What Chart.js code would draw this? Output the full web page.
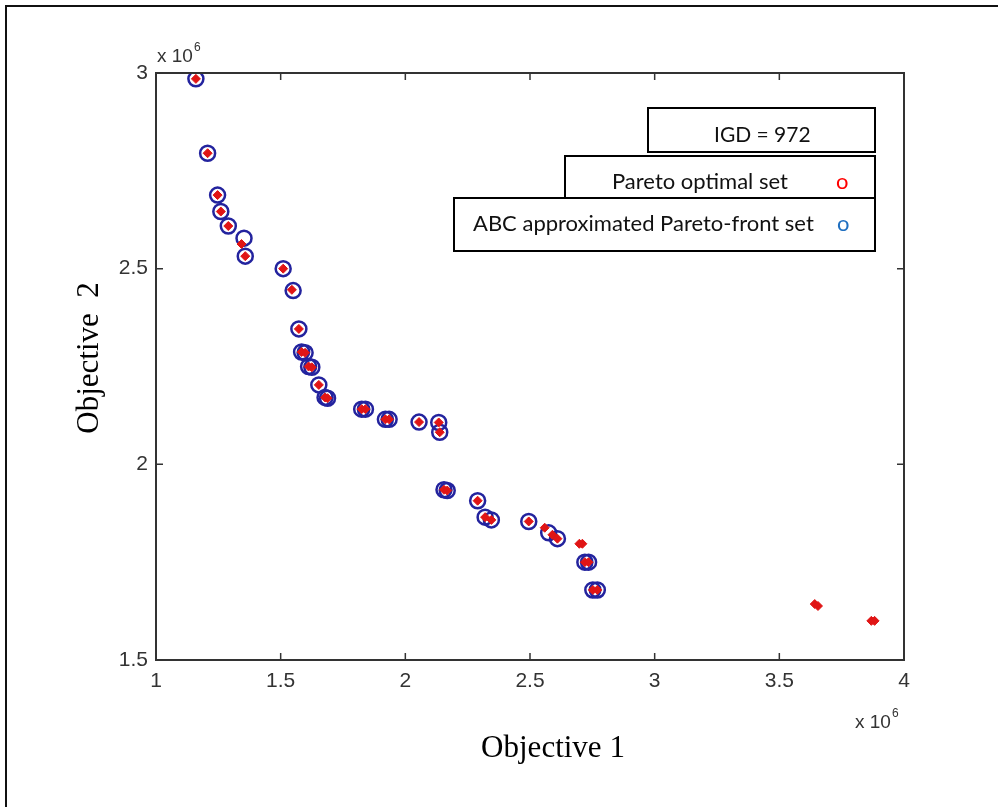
<!DOCTYPE html>
<html>
<head>
<meta charset="utf-8">
<script src="https://cdn.jsdelivr.net/npm/chart.js@4/dist/chart.umd.min.js"></script>
<style>
  html, body { margin: 0; padding: 0; background: #fff; }
  #wrap { position: relative; width: 998px; height: 807px; overflow: hidden; }
  #outer { position: absolute; left: 5px; top: 5px; width: 1010px; height: 820px; border: 2px solid #111; }
  canvas { position: absolute; left: 0; top: 0; }
  .box { position: absolute; box-sizing: border-box; border: 2px solid #000; background: #fff; }
  .lbl { position: absolute; font-family: Lato, "Noto Sans", sans-serif; font-size: 22px; line-height: 26px; color: #111; white-space: nowrap; }
</style>
</head>
<body>
<div id="wrap">
  <div id="outer"></div>
  <canvas id="chart" width="998" height="807"></canvas>
  <div class="box" style="left:647px; top:107px; width:229px; height:46px;"></div>
  <div class="box" style="left:564px; top:155px; width:312px; height:44px;"></div>
  <div class="box" style="left:453px; top:197px; width:423px; height:55px;"></div>
  <span class="lbl" style="left:714px; top:121px; font-size:21px;">IGD = 972</span>
  <span class="lbl" style="left:612px; top:168px;">Pareto optimal set</span>
  <span class="lbl" style="left:836px; top:168px; color:#ff0000;">o</span>
  <span class="lbl" style="left:473px; top:210px;">ABC approximated Pareto-front set</span>
  <span class="lbl" style="left:837px; top:210px; color:#1f6fc0;">o</span>
</div>
<script>
// ABC approximated Pareto-front set (blue circles)
const abcX = [1.16, 1.207, 1.247, 1.26, 1.29, 1.353, 1.358, 1.51, 1.55, 1.573, 1.584, 1.598, 1.612, 1.625, 1.653, 1.678, 1.688, 1.825, 1.84, 1.92, 1.935, 2.055, 2.134, 2.138, 2.155, 2.168, 2.29, 2.32, 2.345, 2.495, 2.575, 2.61, 2.72, 2.735, 2.752, 2.77];
const abcY = [2.985, 2.795, 2.688, 2.646, 2.609, 2.578, 2.532, 2.50, 2.444, 2.346, 2.287, 2.285, 2.25, 2.248, 2.203, 2.171, 2.169, 2.141, 2.141, 2.115, 2.115, 2.108, 2.107, 2.082, 1.935, 1.933, 1.907, 1.865, 1.858, 1.854, 1.825, 1.81, 1.75, 1.75, 1.679, 1.679];

// Pareto optimal set (red)
const paretoX = [1.16, 1.207, 1.247, 1.26, 1.29, 1.343, 1.358, 1.51, 1.545, 1.573, 1.584, 1.598, 1.612, 1.625, 1.653, 1.678, 1.688, 1.825, 1.84, 1.92, 1.935, 2.055, 2.134, 2.138, 2.155, 2.168, 2.29, 2.32, 2.345, 2.495, 2.559, 2.59, 2.61, 2.698, 2.71, 2.72, 2.735, 2.752, 2.77, 3.642, 3.655, 3.869, 3.882];
const paretoY = [2.985, 2.795, 2.688, 2.646, 2.609, 2.563, 2.532, 2.50, 2.446, 2.346, 2.287, 2.285, 2.25, 2.248, 2.203, 2.171, 2.169, 2.141, 2.141, 2.115, 2.115, 2.108, 2.107, 2.082, 1.935, 1.933, 1.907, 1.865, 1.858, 1.854, 1.838, 1.82, 1.81, 1.797, 1.797, 1.75, 1.75, 1.679, 1.679, 1.643, 1.638, 1.600, 1.600];

const xTicks = [1, 1.5, 2, 2.5, 3, 3.5, 4];
const yTicks = [1.5, 2, 2.5, 3];

const toPoints = (xs, ys) => xs.map((x, i) => ({ x, y: ys[i] }));

const AXIS_COLOR = "#333";

// "x 10^6" note with the exponent raised after the text
function expNote(ctx, left, baseline) {
  ctx.font = '19px "Liberation Sans"';
  ctx.textAlign = "left";
  ctx.fillText("x 10", left, baseline);
  const w = ctx.measureText("x 10").width;
  ctx.font = '12px "Liberation Sans"';
  ctx.fillText("6", left + w + 1, baseline - 11);
}

// box, inward ticks, exponent notes and axis titles
const framePlugin = {
  id: "frame",
  afterDraw(chart) {
    const { ctx, chartArea: a, scales } = chart;
    const sx = scales.x, sy = scales.y;
    ctx.save();
    ctx.strokeStyle = AXIS_COLOR;
    ctx.lineWidth = 2;
    ctx.strokeRect(a.left, a.top, a.right - a.left, a.bottom - a.top);

    ctx.lineWidth = 1.5;
    const len = 7;
    ctx.beginPath();
    xTicks.forEach((v) => {
      const px = sx.getPixelForValue(v);
      ctx.moveTo(px, a.bottom); ctx.lineTo(px, a.bottom - len);
      ctx.moveTo(px, a.top); ctx.lineTo(px, a.top + len);
    });
    yTicks.forEach((v) => {
      const py = sy.getPixelForValue(v);
      ctx.moveTo(a.left, py); ctx.lineTo(a.left + len, py);
      ctx.moveTo(a.right, py); ctx.lineTo(a.right - len, py);
    });
    ctx.stroke();

    ctx.fillStyle = AXIS_COLOR;
    ctx.textBaseline = "alphabetic";
    expNote(ctx, 157, 62);
    expNote(ctx, 855, 728);

    // axis titles
    ctx.fillStyle = "#000";
    ctx.font = '31px "Liberation Serif"';
    ctx.textAlign = "center";
    ctx.fillText("Objective 1", 553, 757);
    ctx.translate(98, 358);
    ctx.rotate(-Math.PI / 2);
    ctx.fillText("Objective  2", 0, 0);
    ctx.restore();
  },
};

new Chart(document.getElementById("chart"), {
  type: "scatter",
  data: {
    datasets: [
      {
        label: "Pareto optimal set",
        data: toPoints(paretoX, paretoY),
        pointStyle: "rectRot",
        pointRadius: 4.5,
        backgroundColor: "#e01515",
        borderColor: "#e01515",
        borderWidth: 1,
      },
      {
        label: "ABC approximated Pareto-front set",
        data: toPoints(abcX, abcY),
        pointStyle: "circle",
        pointRadius: 7.5,
        backgroundColor: "rgba(0,0,0,0)",
        borderColor: "#23239e",
        borderWidth: 2.5,
      },
    ],
  },
  plugins: [framePlugin],
  options: {
    responsive: false,
    animation: false,
    events: [],
    layout: { padding: { top: 73, right: 94, left: 0, bottom: 0 } },
    plugins: { legend: { display: false }, tooltip: { enabled: false } },
    scales: {
      x: {
        type: "linear",
        min: 1,
        max: 4,
        afterFit: (s) => { s.height = 147; },
        afterBuildTicks: (s) => { s.ticks = xTicks.map((v) => ({ value: v })); },
        grid: { display: false, drawTicks: false },
        border: { display: false },
        ticks: {
          padding: 9,
          color: AXIS_COLOR,
          font: { family: "Liberation Sans", size: 21 },
          callback: (v) => String(v),
        },
      },
      y: {
        type: "linear",
        min: 1.5,
        max: 3,
        afterFit: (s) => { s.width = 156; },
        afterBuildTicks: (s) => { s.ticks = yTicks.map((v) => ({ value: v })); },
        grid: { display: false, drawTicks: false },
        border: { display: false },
        ticks: {
          padding: 8,
          color: AXIS_COLOR,
          font: { family: "Liberation Sans", size: 21 },
          callback: (v) => String(v),
        },
      },
    },
  },
});
</script>
</body>
</html>
